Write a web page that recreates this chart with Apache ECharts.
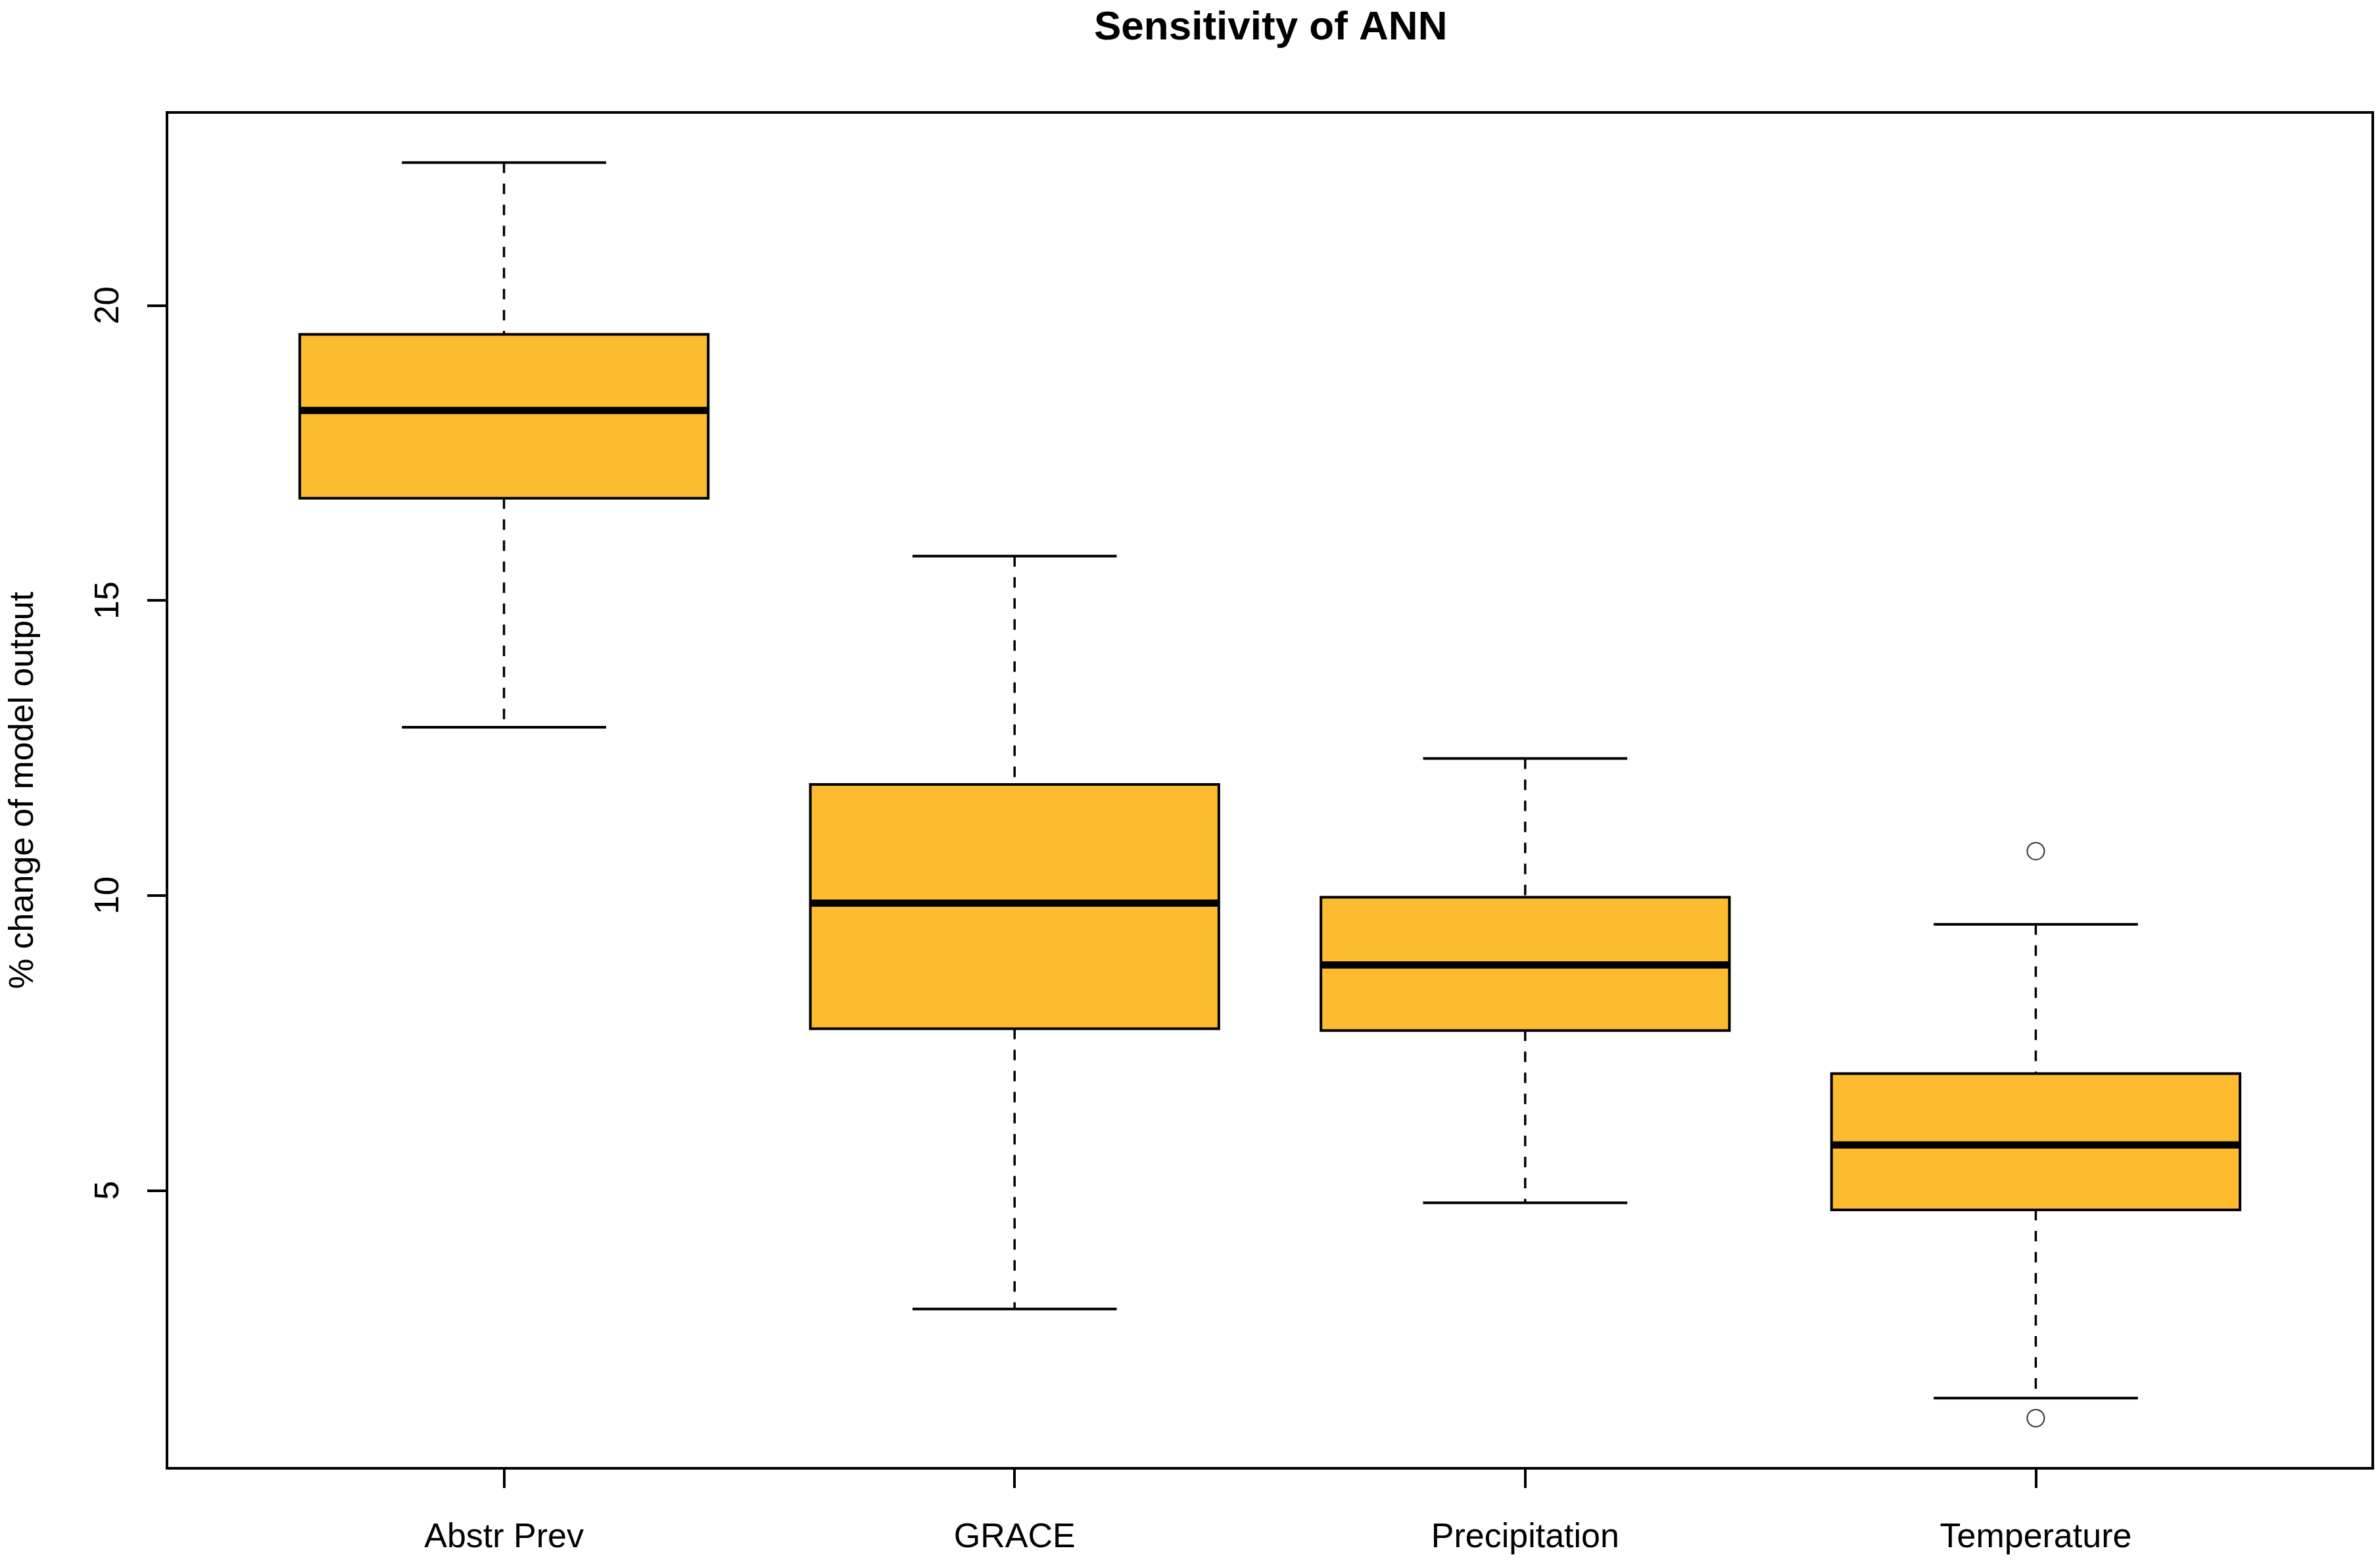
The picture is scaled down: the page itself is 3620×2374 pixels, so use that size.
<!DOCTYPE html>
<html>
<head>
<meta charset="utf-8">
<script src="https://cdn.jsdelivr.net/npm/echarts@6/dist/echarts.min.js"></script>
<style>html,body{margin:0;padding:0;background:#fff}#c{width:3620px;height:2374px}</style>
</head>
<body>
<div id="c"></div>
<script>
const categories = ["Abstr Prev", "GRACE", "Precipitation", "Temperature"];
const lowerWhisker = [12.85, 2.99, 4.79, 1.48];
const q1Values = [16.73, 7.74, 7.71, 4.67];
const medians = [18.22, 9.87, 8.82, 5.77];
const q3Values = [19.51, 11.88, 9.97, 6.98];
const upperWhisker = [22.42, 15.75, 12.32, 9.51];
const outliers = [[4, 10.75], [4, 1.14]];
const yTicks = [5, 10, 15, 20];
const xTicks = [1, 2, 3, 4];

const boxData = categories.map((c, i) => [i + 1, lowerWhisker[i], q1Values[i], medians[i], q3Values[i], upperWhisker[i]]);

const FONT = '"Liberation Sans", Arial, sans-serif';
const chart = echarts.init(document.getElementById('c'), null, {renderer: 'canvas'});

function renderBox(params, api) {
  const x = api.value(0);
  const lo = api.value(1), q1 = api.value(2), med = api.value(3), q3 = api.value(4), hi = api.value(5);
  const halfBox = 0.4, halfCap = 0.2;
  const c = (xx, yy) => api.coord([xx, yy]);
  const pLo = c(x, lo), pQ1 = c(x, q1), pQ3 = c(x, q3), pHi = c(x, hi);
  const bl = c(x - halfBox, q3), br = c(x + halfBox, q1);
  const ml = c(x - halfBox, med), mr = c(x + halfBox, med);
  const capL1 = c(x - halfCap, lo), capR1 = c(x + halfCap, lo);
  const capL2 = c(x - halfCap, hi), capR2 = c(x + halfCap, hi);
  const dash = {stroke: '#000', lineWidth: 3.5, lineDash: [16, 16]};
  const solid = {stroke: '#000', lineWidth: 4};
  return {
    type: 'group',
    children: [
      {type: 'line', shape: {x1: pHi[0], y1: pHi[1], x2: pQ3[0], y2: pQ3[1]}, style: dash},
      {type: 'line', shape: {x1: pQ1[0], y1: pQ1[1], x2: pLo[0], y2: pLo[1]}, style: dash},
      {type: 'line', shape: {x1: capL1[0], y1: capL1[1], x2: capR1[0], y2: capR1[1]}, style: solid},
      {type: 'line', shape: {x1: capL2[0], y1: capL2[1], x2: capR2[0], y2: capR2[1]}, style: solid},
      {type: 'rect', shape: {x: bl[0], y: bl[1], width: br[0] - bl[0], height: br[1] - bl[1]},
        style: {fill: '#FDBB2F', stroke: '#000', lineWidth: 4}},
      {type: 'line', shape: {x1: ml[0], y1: ml[1], x2: mr[0], y2: mr[1]}, style: {stroke: '#000', lineWidth: 11}}
    ]
  };
}

chart.setOption({
  animation: false,
  backgroundColor: '#fff',
  title: {
    text: 'Sensitivity of ANN',
    left: 1664, top: 12, padding: 0,
    textStyle: {fontFamily: FONT, fontSize: 62, fontWeight: 'bold', color: '#000'}
  },
  grid: {left: 254, right: 11, top: 171, bottom: 141, show: true, borderColor: '#000', borderWidth: 4, backgroundColor: 'transparent'},
  xAxis: {
    type: 'value', min: 0.34, max: 4.66,
    splitLine: {show: false},
    axisLine: {show: false},
    axisTick: {show: true, customValues: xTicks, length: 30, lineStyle: {color: '#000', width: 4}},
    axisLabel: {
      customValues: xTicks, margin: 80,
      formatter: v => categories[Math.round(v) - 1] || '',
      fontFamily: FONT, fontSize: 52, color: '#000'
    }
  },
  yAxis: {
    type: 'value', min: 0.29, max: 23.27,
    name: '% change of model output', nameLocation: 'middle', nameRotate: 90, nameGap: 192,
    nameTextStyle: {fontFamily: FONT, fontSize: 52, color: '#000'},
    splitLine: {show: false},
    axisLine: {show: false},
    axisTick: {show: true, customValues: yTicks, length: 30, lineStyle: {color: '#000', width: 4}},
    axisLabel: {
      customValues: yTicks, rotate: 90, margin: 62,
      fontFamily: FONT, fontSize: 52, color: '#000'
    }
  },
  series: [
    {type: 'custom', renderItem: renderBox, data: boxData, encode: {x: 0, y: [1, 2, 3, 4, 5]}, z: 2},
    {type: 'scatter', data: outliers, symbol: 'emptyCircle', symbolSize: 26,
      itemStyle: {color: '#000', borderColor: '#000', borderWidth: 2.5}, z: 3}
  ]
});
</script>
</body>
</html>
